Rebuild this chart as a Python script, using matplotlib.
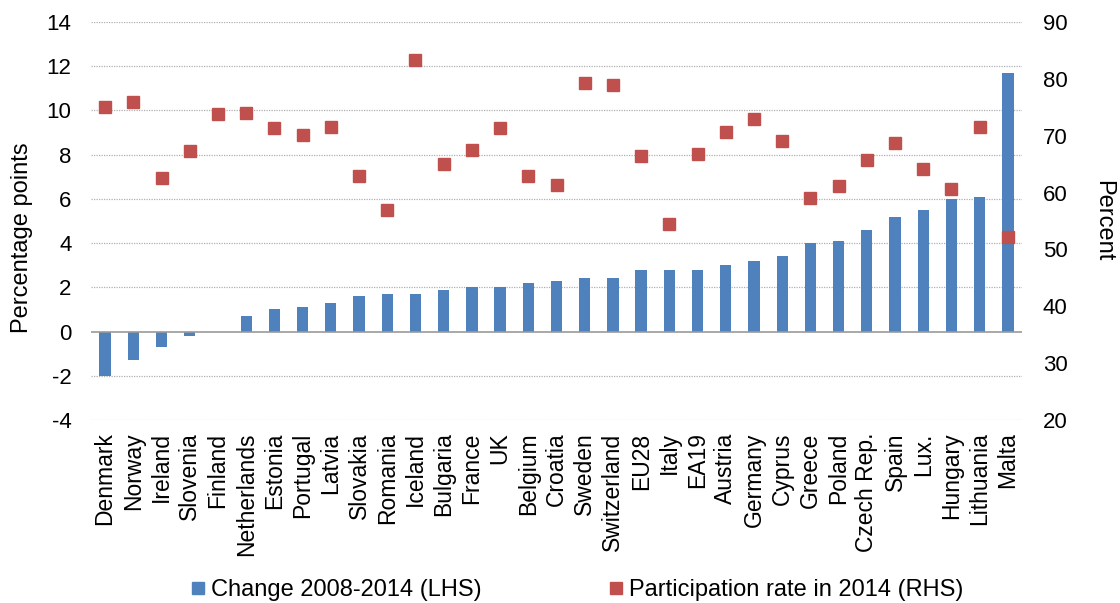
import matplotlib
matplotlib.use("Agg")
import matplotlib.pyplot as plt
from matplotlib.lines import Line2D
import numpy as np

plt.rcParams['font.family'] = ['Liberation Sans', 'DejaVu Sans']
plt.rcParams['axes.unicode_minus'] = False

countries = ["Denmark", "Norway", "Ireland", "Slovenia", "Finland", "Netherlands",
             "Estonia", "Portugal", "Latvia", "Slovakia", "Romania", "Iceland",
             "Bulgaria", "France", "UK", "Belgium", "Croatia", "Sweden",
             "Switzerland", "EU28", "Italy", "EA19", "Austria", "Germany",
             "Cyprus", "Greece", "Poland", "Czech Rep.", "Spain", "Lux.",
             "Hungary", "Lithuania", "Malta"]

change_2008_2014 = [-2.0, -1.3, -0.7, -0.2, 0.0, 0.7,
                    1.0, 1.1, 1.3, 1.6, 1.7, 1.7,
                    1.9, 2.0, 2.0, 2.2, 2.3, 2.4,
                    2.4, 2.8, 2.8, 2.8, 3.0, 3.2,
                    3.4, 4.0, 4.1, 4.6, 5.2, 5.5,
                    6.0, 6.1, 11.7]

participation_2014 = [75.0, 76.0, 62.6, 67.3, 73.9, 74.0,
                      71.3, 70.1, 71.6, 62.9, 56.9, 83.4,
                      65.0, 67.4, 71.3, 63.0, 61.3, 79.3,
                      79.0, 66.5, 54.4, 66.8, 70.7, 72.9,
                      69.1, 59.1, 61.2, 65.7, 68.8, 64.1,
                      60.7, 71.6, 52.1]

bar_color = "#4F81BD"
dot_color = "#C0504D"
tick_fs = 16
cat_fs = 16.5
label_fs = 17
legend_fs = 17

fig = plt.figure(figsize=(11.2, 6.03), dpi=100)
ax = fig.add_axes([91 / 1120, 1 - 420 / 603, 931 / 1120, 398 / 603])
ax2 = ax.twinx()

x = np.arange(len(countries))
ax.bar(x, change_2008_2014, width=0.4, color=bar_color, zorder=3)
ax2.plot(x, participation_2014, linestyle="none", marker="s", markersize=9,
         color=dot_color, zorder=4)

ax.set_xlim(-0.5, len(countries) - 0.5)
ax.set_ylim(-4, 14)
ax.set_yticks(np.arange(-4, 15, 2))
ax2.set_ylim(20, 90)
ax2.set_yticks(np.arange(20, 91, 10))

# dotted gridlines on left-axis ticks, solid zero line
for v in np.arange(-4, 15, 2):
    if v == 0:
        continue
    ax.axhline(v, color="#B0B0B0", linestyle=(0, (1, 1)), linewidth=0.9, zorder=1)
ax.axhline(0, color="#9A9A9A", linewidth=1.2, zorder=4)

for a in (ax, ax2):
    for s in a.spines.values():
        s.set_visible(False)
    a.tick_params(length=0, labelsize=tick_fs)

ax.set_xticks(x)
ax.set_xticklabels(countries, rotation=90, fontsize=cat_fs)
ax.tick_params(axis="x", pad=9)
ax.tick_params(axis="y", pad=14)
ax2.tick_params(axis="y", pad=15)

ax.set_ylabel("Percentage points", fontsize=label_fs, ha="center", va="center")
ax.yaxis.set_label_coords((22 - 91) / 931, (420 - 238) / 398)
ax2.set_ylabel("Percent", fontsize=label_fs, rotation=270, ha="center", va="center")
ax2.yaxis.set_label_coords((1103 - 91) / 931, (420 - 221) / 398)

handles = [
    Line2D([], [], linestyle="none", marker="s", markersize=8.5,
           color=bar_color),
    Line2D([], [], linestyle="none", marker="s", markersize=9,
           color=dot_color),
]
fig.legend(handles, ["Change 2008-2014 (LHS)", "Participation rate in 2014 (RHS)"],
           loc="center", bbox_to_anchor=(577 / 1120, 1 - 590 / 603), ncol=2,
           frameon=False, fontsize=legend_fs, handlelength=0.6, handletextpad=0.25,
           columnspacing=5.4)

fig.savefig("out.png", dpi=100)
